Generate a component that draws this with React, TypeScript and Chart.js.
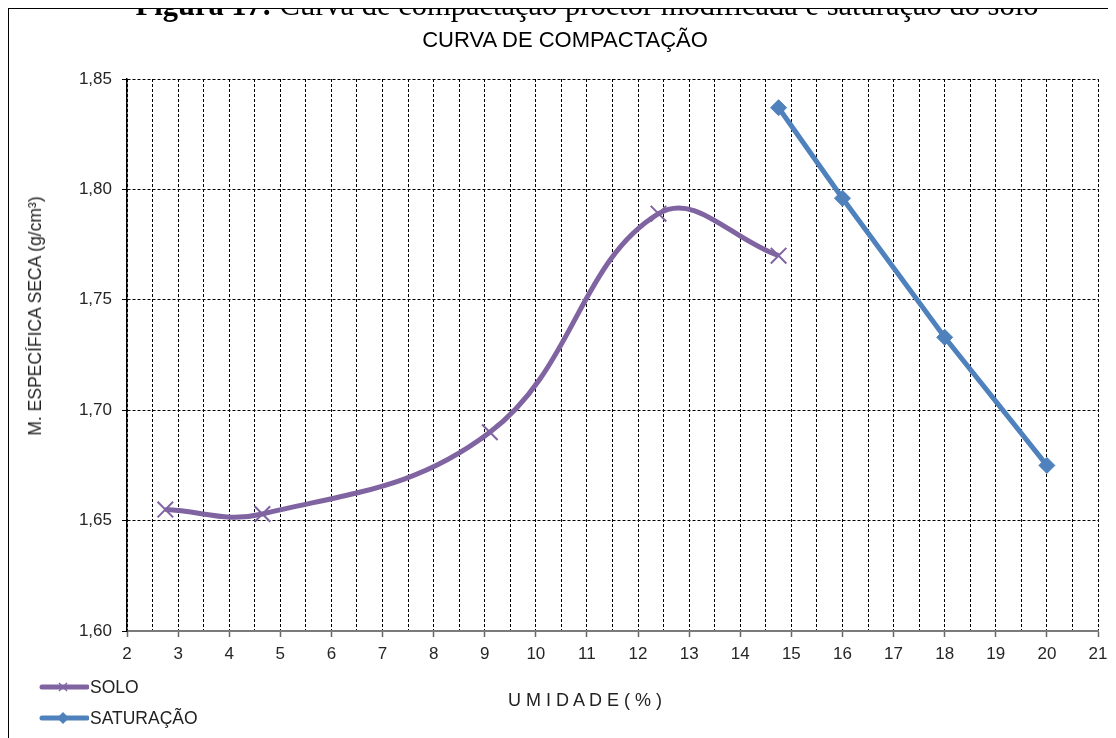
import React, { useEffect, useRef } from "react";
import { Chart, registerables } from "chart.js";

Chart.register(...registerables);

const soloX = [2.75, 4.65, 9.1, 12.4, 14.75];
const soloY = [1.655, 1.653, 1.69, 1.789, 1.77];
const satX = [14.75, 16, 18, 20];
const satY = [1.837, 1.796, 1.733, 1.675];

const xMin = 2;
const xMax = 21;
const yMin = 1.6;
const yMax = 1.85;
const yStep = 0.05;
const xGridStep = 0.5;

const SOLO_COLOR = "#8064A2";
const SAT_COLOR = "#4F81BD";
const FONT = "'Liberation Sans', Arial, sans-serif";

export default function App() {
  const ref = useRef<HTMLCanvasElement | null>(null);

  useEffect(() => {
    document.body.style.overflow = "hidden";
    const canvas = ref.current;
    if (!canvas) return;
    const chart = new Chart(canvas, {
      type: "scatter",
      data: {
        datasets: [
          {
            label: "SOLO",
            data: soloX.map((x, i) => ({ x, y: soloY[i] })),
            showLine: true,
            borderColor: SOLO_COLOR,
            backgroundColor: SOLO_COLOR,
            borderWidth: 5,
            tension: 0.4,
            pointStyle: "crossRot",
            pointRadius: 11,
            pointBorderWidth: 2,
            pointBorderColor: SOLO_COLOR,
          },
          {
            label: "SATURAÇÃO",
            data: satX.map((x, i) => ({ x, y: satY[i] })),
            showLine: true,
            borderColor: SAT_COLOR,
            backgroundColor: SAT_COLOR,
            borderWidth: 5,
            tension: 0,
            pointStyle: "rectRot",
            pointRadius: 8,
            pointBorderWidth: 1,
            pointBorderColor: SAT_COLOR,
          },
        ],
      },
      options: {
        responsive: false,
        maintainAspectRatio: false,
        animation: false,
        layout: { padding: { top: 70, right: 18, bottom: 0, left: 0 } },
        plugins: {
          legend: { display: false },
          title: { display: false },
          tooltip: { enabled: false },
        },
        scales: {
          x: {
            type: "linear",
            min: xMin,
            max: xMax,
            afterFit: (s: any) => {
              s.height = 107;
            },
            ticks: {
              stepSize: xGridStep,
              autoSkip: false,
              maxRotation: 0,
              padding: 7,
              color: "#262626",
              font: { family: FONT, size: 17 },
              callback: (v: any) => (Number(v) % 1 === 0 ? String(v) : ""),
            },
            grid: {
              color: "#000",
              lineWidth: 1,
              tickLength: 6,
              tickColor: (ctx: any) =>
                ctx.tick && Number(ctx.tick.value) % 1 === 0 ? "#666" : "rgba(0,0,0,0)",
              tickWidth: 1.5,
            },
            border: { display: true, color: "#7a7a7a", width: 2, dash: [3, 2] },
          },
          y: {
            type: "linear",
            min: yMin,
            max: yMax,
            afterFit: (s: any) => {
              s.width = 118;
            },
            ticks: {
              stepSize: yStep,
              padding: 10,
              color: "#262626",
              font: { family: FONT, size: 17 },
              callback: (v: any) => Number(v).toFixed(2).replace(".", ","),
            },
            grid: {
              color: "#000",
              lineWidth: 1,
              tickLength: 5,
              tickColor: "#000",
            },
            border: { display: true, color: "#000", width: 1.5, dash: [3, 2] },
          },
        },
      },
    });
    return () => chart.destroy();
  }, []);

  return (
    <div style={{ position: "relative", width: 1108, height: 730 }}>
      <div
        style={{
          position: "absolute",
          left: 0,
          top: 0,
          width: 1108,
          height: 730,
          boxSizing: "border-box",
          borderTop: "1px solid #000",
          borderLeft: "1px solid #000",
          background: "#fff",
          overflow: "hidden",
        }}
      >
        <canvas ref={ref} width={1107} height={729} style={{ position: "absolute", left: 0, top: 0, width: 1107, height: 729 }} />
        <div
          style={{
            position: "absolute",
            left: 556,
            top: 20,
            transform: "translateX(-50%)",
            whiteSpace: "pre",
            fontFamily: FONT,
            fontSize: 22,
            lineHeight: "22px",
            color: "#000",
          }}
        >
          CURVA DE COMPACTAÇÃO
        </div>
        <div
          style={{
            position: "absolute",
            left: 26,
            top: 307,
            transform: "translate(-50%,-50%) rotate(-90deg)",
            whiteSpace: "nowrap",
            fontFamily: FONT,
            fontSize: 17.5,
            lineHeight: "18px",
            color: "#222",
          }}
        >
          M. ESPECÍFICA SECA (g/cm³)
        </div>
        <div
          style={{
            position: "absolute",
            left: 576,
            top: 682,
            transform: "translateX(-50%)",
            whiteSpace: "nowrap",
            fontFamily: FONT,
            fontSize: 18,
            lineHeight: "18px",
            color: "#222",
          }}
        >
          U M I D A D E ( % )
        </div>
        {[
          { label: "SOLO", color: SOLO_COLOR, marker: "x", cy: 678 },
          { label: "SATURAÇÃO", color: SAT_COLOR, marker: "d", cy: 709 },
        ].map((it) => (
          <div
            key={it.label}
            style={{ position: "absolute", left: 30, top: it.cy - 10, height: 20, display: "flex", alignItems: "center" }}
          >
            <svg width={50} height={20} style={{ display: "block" }}>
              <line x1={3} y1={10} x2={48} y2={10} stroke={it.color} strokeWidth={5} strokeLinecap="round" />
              {it.marker === "x" ? (
                <g stroke={it.color} strokeWidth={1.5}>
                  <line x1={20} y1={6} x2={28} y2={14} />
                  <line x1={20} y1={14} x2={28} y2={6} />
                </g>
              ) : (
                <polygon points="24,4 30,10 24,16 18,10" fill={it.color} />
              )}
            </svg>
            <span style={{ fontFamily: FONT, fontSize: 17.5, color: "#222", marginLeft: 1 }}>{it.label}</span>
          </div>
        ))}
      </div>
      <div
        style={{
          position: "absolute",
          left: 579,
          top: -19,
          zIndex: 2,
          transform: "translateX(-50%)",
          whiteSpace: "nowrap",
          fontFamily: "'Liberation Serif', 'Times New Roman', serif",
          fontSize: 30.5,
          lineHeight: "32px",
          color: "#000",
        }}
      >
        <b>Figura 17:</b> Curva de compactação proctor modificada e saturação do solo
      </div>
    </div>
  );
}
